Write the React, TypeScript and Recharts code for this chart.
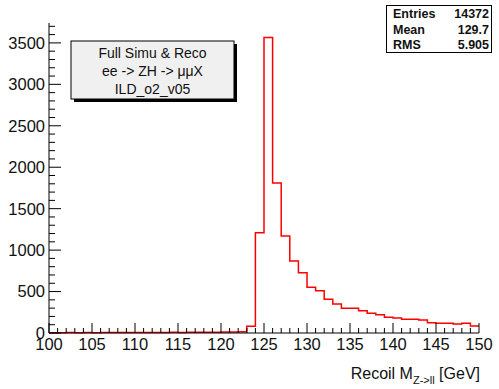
import { ComposedChart, Line, XAxis, YAxis } from "recharts";

// bin low edges (1 GeV bins), last entry closes the histogram at 150
const binEdges = [
  100, 101, 102, 103, 104, 105, 106, 107, 108, 109, 110, 111, 112, 113, 114, 115, 116, 117, 118, 119, 120,
  121, 122, 123, 124, 125, 126, 127, 128, 129, 130, 131, 132, 133, 134, 135, 136, 137, 138, 139, 140, 141,
  142, 143, 144, 145, 146, 147, 148, 149, 150,
];
const counts = [
  4, 3, 5, 4, 6, 4, 5, 6, 5, 7, 6, 5, 7, 6, 8, 7, 8, 9, 10, 9, 11, 12, 14, 80, 1210, 3566, 1810,
  1170, 868, 727, 551, 510, 406, 350, 298, 298, 269, 237, 221, 189, 181, 165, 165, 157, 124, 117, 117, 108, 117,
  84,
];
const xTicks = binEdges;
const yTicks = [
  0, 100, 200, 300, 400, 500, 600, 700, 800, 900, 1000, 1100, 1200, 1300, 1400, 1500, 1600, 1700, 1800, 1900,
  2000, 2100, 2200, 2300, 2400, 2500, 2600, 2700, 2800, 2900, 3000, 3100, 3200, 3300, 3400, 3500, 3600, 3700,
];
const stats = [
  ["Entries", "14372"],
  ["Mean", "129.7"],
  ["RMS", "5.905"],
];
const infoLines = ["Full Simu & Reco", "ee -> ZH -> \u03bc\u03bcX", "ILD_o2_v05"];

// step line needs one point per edge; the last edge repeats the last bin
const data = binEdges.map((x, i) => ({ x, y: counts[Math.min(i, counts.length - 1)] }));

const FONT = "'Liberation Sans', Arial, sans-serif";

const BottomTick = (p: any) => {
  const v = p.payload.value;
  const major = v % 5 === 0;
  return (
    <g>
      <line x1={p.x} x2={p.x} y1={p.y} y2={p.y - (major ? 10 : 5)} stroke="#000" />
      {major && (
        <text x={p.x} y={p.y + 17} textAnchor="middle" fontSize={16.5} fontFamily={FONT} fill="#111">
          {v}
        </text>
      )}
    </g>
  );
};

const TopTick = (p: any) => {
  const major = p.payload.value % 5 === 0;
  return <line x1={p.x} x2={p.x} y1={p.y} y2={p.y + (major ? 10 : 5)} stroke="#000" />;
};

const LeftTick = (p: any) => {
  const v = p.payload.value;
  const major = v % 500 === 0;
  return (
    <g>
      <line x1={p.x} x2={p.x + (major ? 12 : 6)} y1={p.y} y2={p.y} stroke="#000" />
      {major && (
        <text x={p.x - 4} y={p.y} dy="0.36em" textAnchor="end" fontSize={16.5} fontFamily={FONT} fill="#111">
          {v}
        </text>
      )}
    </g>
  );
};

const RightTick = (p: any) => {
  const major = p.payload.value % 500 === 0;
  return <line x1={p.x} x2={p.x - (major ? 12 : 6)} y1={p.y} y2={p.y} stroke="#000" />;
};

export default function App() {
  return (
    <div style={{ position: "absolute", left: 0, top: 0, width: 499, height: 389, background: "#fff" }}>
      <ComposedChart width={499} height={389} data={data} margin={{ top: 23, right: 20, left: 0, bottom: 0 }}>
        <XAxis
          dataKey="x"
          type="number"
          domain={[100, 150]}
          ticks={xTicks}
          interval={0}
          height={56}
          tickSize={0}
          tickMargin={0}
          tickLine={false}
          tick={<BottomTick />}
          stroke="#000"
        />
        <XAxis
          xAxisId="top"
          orientation="top"
          type="number"
          domain={[100, 150]}
          ticks={xTicks}
          interval={0}
          height={0}
          tickSize={0}
          tickMargin={0}
          tickLine={false}
          tick={<TopTick />}
          stroke="#000"
        />
        <YAxis
          type="number"
          domain={[0, 3740]}
          ticks={yTicks}
          interval={0}
          width={49}
          tickSize={0}
          tickMargin={0}
          tickLine={false}
          tick={<LeftTick />}
          stroke="#000"
        />
        <YAxis
          yAxisId="right"
          orientation="right"
          type="number"
          domain={[0, 3740]}
          ticks={yTicks}
          interval={0}
          width={0}
          tickSize={0}
          tickMargin={0}
          tickLine={false}
          tick={<RightTick />}
          stroke="#000"
        />
        <Line
          type="stepAfter"
          dataKey="y"
          stroke="#ff0000"
          strokeWidth={1.5}
          dot={false}
          isAnimationActive={false}
        />
      </ComposedChart>
      <svg
        width={499}
        height={389}
        style={{ position: "absolute", left: 0, top: 0, pointerEvents: "none" }}
        fontFamily={FONT}
      >
        <rect x={74} y={44} width={163} height={58} fill="#000" />
        <rect x={71} y={41} width={163} height={58} fill="#f0f0f0" stroke="#000" />
        {infoLines.map((t, i) => (
          <text key={t} x={152.5} y={58 + i * 18} textAnchor="middle" fontSize={14} fill="#111">
            {t}
          </text>
        ))}
        <rect x={386.5} y={5.5} width={105} height={47} fill="#fff" stroke="#000" />
        {stats.map(([k, v], i) => (
          <g key={k} fontSize={12.5} fontWeight="bold" fill="#111">
            <text x={393} y={18 + i * 15.7}>
              {k}
            </text>
            <text x={489} y={18 + i * 15.7} textAnchor="end">
              {v}
            </text>
          </g>
        ))}
        <text x={480} y={379} textAnchor="end" fontSize={16} fill="#111">
          <tspan>Recoil M</tspan>
          <tspan fontSize={11} dy={5}>
            {"Z->ll"}
          </tspan>
          <tspan dy={-5}> [GeV]</tspan>
        </text>
      </svg>
    </div>
  );
}
